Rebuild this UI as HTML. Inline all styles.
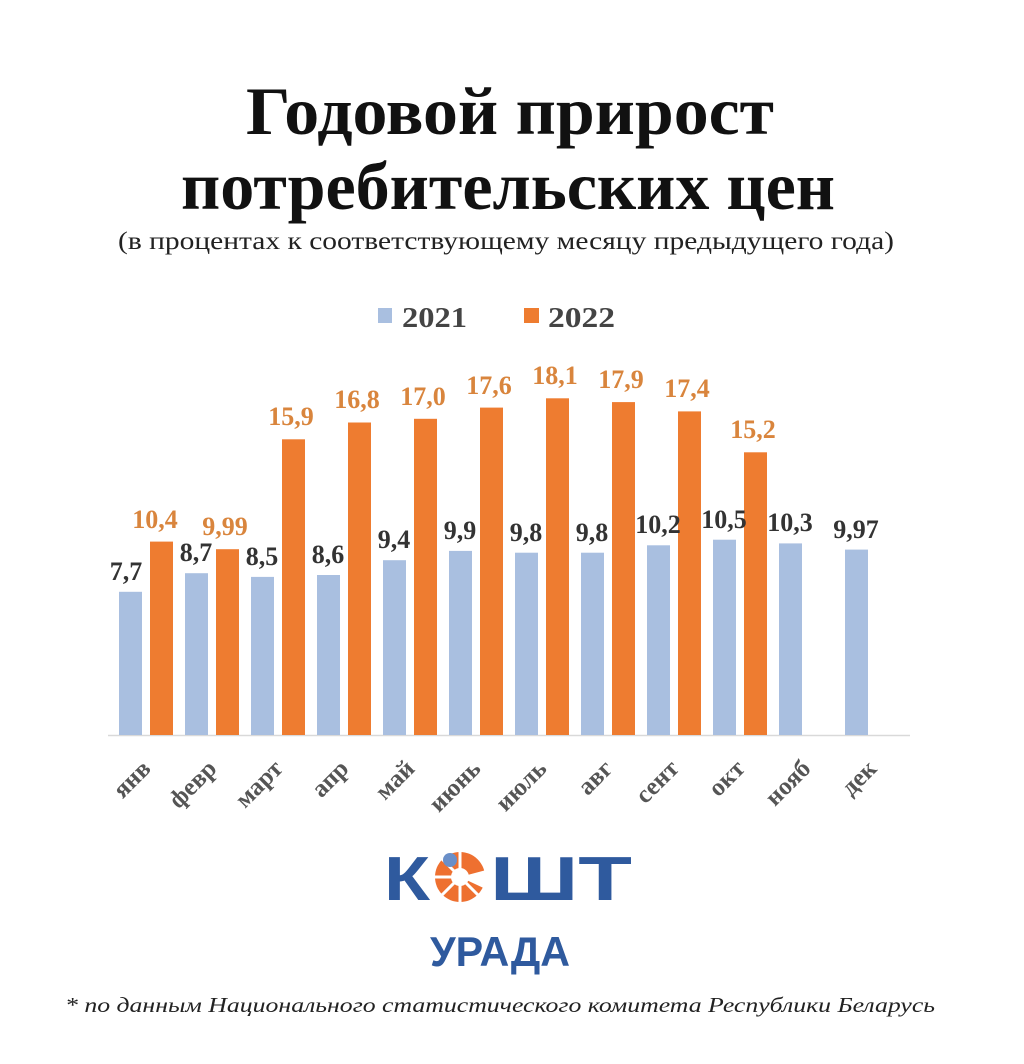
<!DOCTYPE html>
<html><head><meta charset="utf-8"><style>
html,body{margin:0;padding:0;background:#fff;}
svg{display:block;}
</style></head><body>
<svg width="1024" height="1064" viewBox="0 0 1024 1064" xmlns="http://www.w3.org/2000/svg" font-family="'Liberation Serif', serif">
<rect width="1024" height="1064" fill="#fff"/>
<text x="510" y="134" font-size="68" font-weight="bold" text-anchor="middle" textLength="528" lengthAdjust="spacingAndGlyphs" fill="#111">Годовой прирост</text>
<text x="508" y="209" font-size="68" font-weight="bold" text-anchor="middle" textLength="654" lengthAdjust="spacingAndGlyphs" fill="#111">потребительских цен</text>
<text x="506" y="249" font-size="25" text-anchor="middle" textLength="776" lengthAdjust="spacingAndGlyphs" fill="#222">(в процентах к соответствующему месяцу предыдущего года)</text>
<rect x="378" y="308" width="14" height="15" fill="#a9bfe0"/>
<text x="402" y="327" font-size="29" font-weight="bold" fill="#444" textLength="65" lengthAdjust="spacingAndGlyphs">2021</text>
<rect x="524" y="308" width="15" height="15" fill="#ee7c30"/>
<text x="548" y="327" font-size="29" font-weight="bold" fill="#444" textLength="67" lengthAdjust="spacingAndGlyphs">2022</text>
<line x1="108" y1="735.5" x2="910" y2="735.5" stroke="#d9d9d9" stroke-width="1.5"/>
<g fill="#a9bfe0">
<rect x="119" y="591.8" width="23" height="143.2"/>
<rect x="185" y="573.2" width="23" height="161.8"/>
<rect x="251" y="576.9" width="23" height="158.1"/>
<rect x="317" y="575" width="23" height="160"/>
<rect x="383" y="560.2" width="23" height="174.8"/>
<rect x="449" y="550.9" width="23" height="184.1"/>
<rect x="515" y="552.7" width="23" height="182.3"/>
<rect x="581" y="552.7" width="23" height="182.3"/>
<rect x="647" y="545.3" width="23" height="189.7"/>
<rect x="713" y="539.7" width="23" height="195.3"/>
<rect x="779" y="543.4" width="23" height="191.6"/>
<rect x="845" y="549.6" width="23" height="185.4"/>
</g>
<g fill="#ee7c30">
<rect x="150" y="541.6" width="23" height="193.4"/>
<rect x="216" y="549.2" width="23" height="185.8"/>
<rect x="282" y="439.3" width="23" height="295.7"/>
<rect x="348" y="422.5" width="23" height="312.5"/>
<rect x="414" y="418.8" width="23" height="316.2"/>
<rect x="480" y="407.6" width="23" height="327.4"/>
<rect x="546" y="398.3" width="23" height="336.7"/>
<rect x="612" y="402.1" width="23" height="332.9"/>
<rect x="678" y="411.4" width="23" height="323.6"/>
<rect x="744" y="452.3" width="23" height="282.7"/>
</g>
<g font-size="26" font-weight="bold" fill="#333" text-anchor="middle">
<text x="126" y="580">7,7</text>
<text x="196" y="561">8,7</text>
<text x="262" y="565">8,5</text>
<text x="328" y="563">8,6</text>
<text x="394" y="548">9,4</text>
<text x="460" y="539">9,9</text>
<text x="526" y="541">9,8</text>
<text x="592" y="541">9,8</text>
<text x="658" y="533">10,2</text>
<text x="724" y="528">10,5</text>
<text x="790" y="531">10,3</text>
<text x="856" y="538">9,97</text>
</g>
<g font-size="26" font-weight="bold" fill="#d9853d" text-anchor="middle">
<text x="155" y="528">10,4</text>
<text x="225" y="535">9,99</text>
<text x="291" y="425">15,9</text>
<text x="357" y="408">16,8</text>
<text x="423" y="405">17,0</text>
<text x="489" y="394">17,6</text>
<text x="555" y="384">18,1</text>
<text x="621" y="388">17,9</text>
<text x="687" y="397">17,4</text>
<text x="753" y="438">15,2</text>
</g>
<g font-size="25" font-weight="bold" fill="#555" text-anchor="end">
<text transform="translate(152,770) rotate(-45)">янв</text>
<text transform="translate(218,770) rotate(-45)">февр</text>
<text transform="translate(284,770) rotate(-45)">март</text>
<text transform="translate(350,770) rotate(-45)">апр</text>
<text transform="translate(416,770) rotate(-45)">май</text>
<text transform="translate(482,770) rotate(-45)">июнь</text>
<text transform="translate(548,770) rotate(-45)">июль</text>
<text transform="translate(614,770) rotate(-45)">авг</text>
<text transform="translate(680,770) rotate(-45)">сент</text>
<text transform="translate(746,770) rotate(-45)">окт</text>
<text transform="translate(812,770) rotate(-45)">нояб</text>
<text transform="translate(878,770) rotate(-45)">дек</text>
</g>
<g font-family="'Liberation Sans', 'DejaVu Sans', sans-serif" font-weight="bold" fill="#2f5a9e">
<text x="384" y="900" font-size="62" textLength="46" lengthAdjust="spacingAndGlyphs">К</text>
<text x="490" y="900" font-size="62" textLength="142" lengthAdjust="spacingAndGlyphs">ШТ</text>
<text x="430" y="966" font-size="42" textLength="140" lengthAdjust="spacingAndGlyphs">УРАДА</text>
</g>
<g transform="translate(460,877)">
<circle r="25" fill="#ee7030"/>
<circle r="9" fill="#fff"/>
<path d="M0,0 L30,-8 L30,14 Z" fill="#fff"/>
<g stroke="#fff" stroke-width="3">
<line x1="0" y1="0" x2="-28" y2="0"/><line x1="0" y1="0" x2="-20" y2="-20"/><line x1="0" y1="0" x2="0" y2="-28"/><line x1="0" y1="0" x2="-20" y2="20"/><line x1="0" y1="0" x2="0" y2="28"/><line x1="0" y1="0" x2="20" y2="20"/>
</g>
<circle cx="-10" cy="-17" r="7" fill="#6a8fc8"/>
</g>
<text x="500" y="1012" font-size="21" font-style="italic" text-anchor="middle" textLength="870" lengthAdjust="spacingAndGlyphs" fill="#222">* по данным Национального статистического комитета Республики Беларусь</text>
</svg>
</body></html>
